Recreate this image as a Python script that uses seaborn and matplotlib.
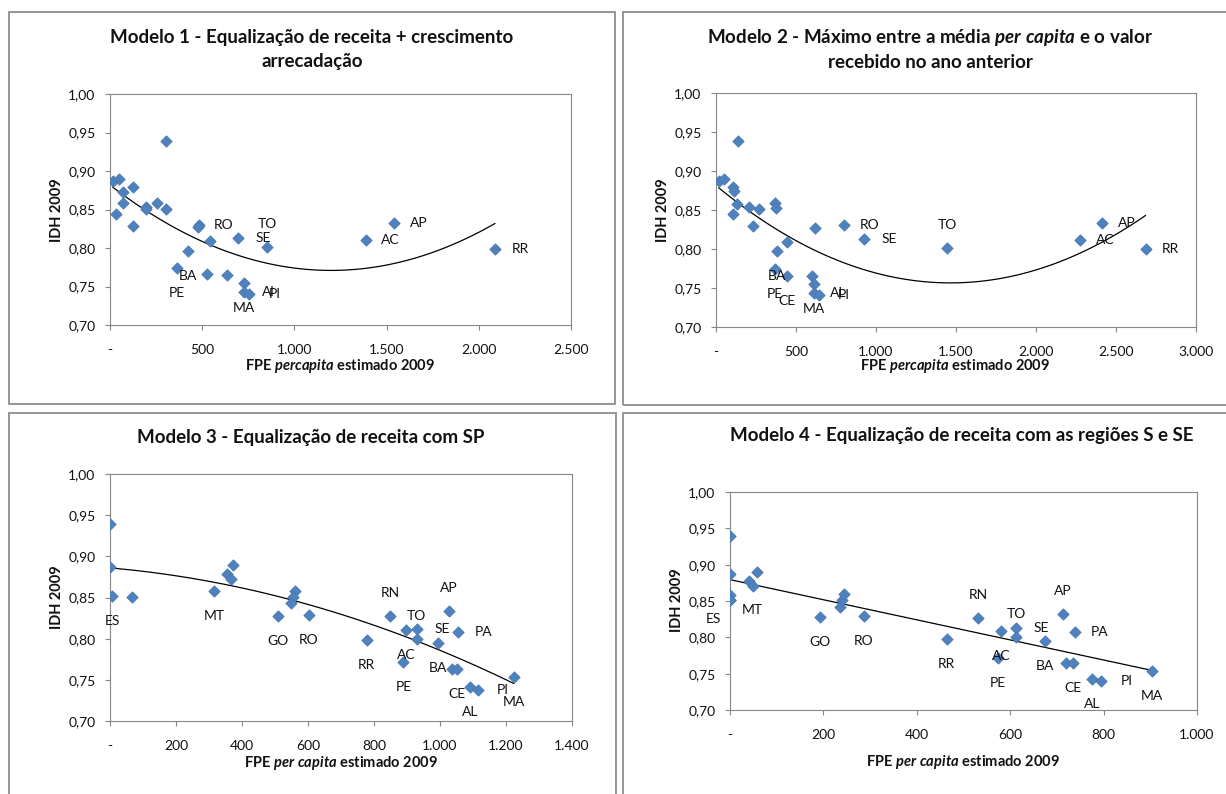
import numpy as np
import pandas as pd
import matplotlib
matplotlib.use("Agg")
import matplotlib.pyplot as plt
import seaborn as sns
from matplotlib.patches import Rectangle
from matplotlib.ticker import FixedLocator, FuncFormatter

# ---------------- data ----------------
# Modelo 1
m1_x = [306, 14, 51, 127, 69, 69, 34, 195, 195, 257, 306, 127, 481, 478, 543,
        693, 854, 1387, 1538, 2088, 425, 364, 525, 637, 724, 724, 756]
m1_y = [0.939, 0.887, 0.890, 0.879, 0.873, 0.858, 0.844, 0.853, 0.851, 0.858, 0.851,
        0.829, 0.830, 0.827, 0.809, 0.813, 0.801, 0.810, 0.833, 0.799, 0.796, 0.774,
        0.766, 0.765, 0.755, 0.743, 0.740]
m1_lbl = ["", "", "", "", "", "", "", "", "", "", "", "", "RO", "", "",
          "SE", "TO", "AC", "AP", "RR", "BA", "PE", "", "", "MA", "Al", "PI"]

# Modelo 2
m2_x = [137, 17, 52, 104, 110, 131, 106, 204, 269, 367, 375, 229, 617, 802, 442,
        927, 1444, 2277, 2410, 2685, 379, 369, 442, 600, 610, 610, 642]
m2_y = [0.939, 0.887, 0.890, 0.879, 0.874, 0.858, 0.845, 0.854, 0.851, 0.859, 0.852,
        0.830, 0.827, 0.831, 0.809, 0.813, 0.801, 0.811, 0.833, 0.800, 0.797, 0.774,
        0.766, 0.766, 0.755, 0.744, 0.741]
m2_lbl = ["", "", "", "", "", "", "", "", "", "", "", "", "", "RO", "",
          "SE", "TO", "AC", "AP", "RR", "BA", "PE", "CE", "", "MA", "AL", "PI"]

# Modelo 3
m3_x = [0, 0, 7, 68, 316, 354, 367, 372, 508, 562, 554, 548, 603, 778, 848,
        897, 931, 929, 889, 993, 1028, 1056, 1035, 1052, 1091, 1114, 1224]
m3_y = [0.939, 0.887, 0.852, 0.851, 0.858, 0.878, 0.872, 0.889, 0.828, 0.858, 0.851,
        0.843, 0.829, 0.798, 0.827, 0.810, 0.812, 0.799, 0.772, 0.795, 0.833, 0.808,
        0.763, 0.763, 0.741, 0.738, 0.753]
m3_lbl = ["", "", "ES", "", "MT", "", "", "", "GO", "", "", "", "RO", "RR", "RN",
          "AC", "SE", "TO", "PE", "BA", "AP", "PA", "", "CE", "AL", "PI", "MA"]

# Modelo 4
m4_x = [0, 0, 0, 0, 0, 41, 50, 58, 193, 235, 240, 244, 287, 464, 531,
        581, 573, 613, 613, 675, 712, 738, 719, 735, 775, 795, 904]
m4_y = [0.939, 0.887, 0.858, 0.851, 0.852, 0.878, 0.871, 0.890, 0.828, 0.842, 0.852,
        0.859, 0.829, 0.798, 0.827, 0.809, 0.772, 0.813, 0.800, 0.795, 0.832, 0.808,
        0.764, 0.764, 0.743, 0.740, 0.753]
m4_lbl = ["", "", "MT", "ES", "", "", "", "", "GO", "", "", "", "RO", "RR", "RN",
          "AC", "PE", "SE", "TO", "BA", "AP", "PA", "", "CE", "AL", "PI", "MA"]

y_ticks = [0.70, 0.75, 0.80, 0.85, 0.90, 0.95, 1.00]
x_ticks_1 = [0, 500, 1000, 1500, 2000, 2500]
x_ticks_2 = [0, 500, 1000, 1500, 2000, 2500, 3000]
x_ticks_3 = [0, 200, 400, 600, 800, 1000, 1200, 1400]
x_ticks_4 = [0, 200, 400, 600, 800, 1000]

# ---------------- label placement (style, in pixels) ----------------
R, B, A = (25, 0), (0, -25), (0, 23)
m1_pos = {"RO": R, "SE": R, "TO": A, "AC": R, "AP": R, "RR": R, "BA": B, "PE": B,
          "MA": B, "Al": R, "PI": R}
m2_pos = {"RO": R, "SE": R, "TO": A, "AC": R, "AP": R, "RR": R, "BA": B, "PE": B,
          "CE": B, "MA": B, "AL": R, "PI": R}
m3_pos = {"ES": B, "MT": B, "GO": B, "RO": B, "RR": B, "RN": A, "AC": B, "SE": R,
          "TO": A, "PE": B, "BA": B, "AP": A, "PA": R, "CE": B, "AL": B, "PI": R, "MA": B}
m4_pos = {"MT": (22, -15), "ES": (-17, -19), "GO": B, "RO": B, "RR": B, "RN": A,
          "AC": B, "PE": B, "SE": R, "TO": A, "BA": B, "AP": A, "PA": R, "CE": B,
          "AL": B, "PI": R, "MA": B}

# ---------------- style ----------------
sns.set_theme(style="white")
plt.rcParams['font.family'] = ['Lato', 'DejaVu Sans']
plt.rcParams['mathtext.fontset'] = 'custom'
plt.rcParams['mathtext.it'] = 'Lato:italic:bold'
plt.rcParams['mathtext.rm'] = 'Lato:bold'
plt.rcParams['mathtext.bf'] = 'Lato:bold'

W, H = 1226, 794
fig = plt.figure(figsize=(W / 100, H / 100), dpi=100)
fig.patch.set_facecolor("white")

def fx(px):
    return px / W

def fy(py):
    return 1 - py / H

GRAY = "#868686"
BLUE = "#4F81BD"
TXT = "#111111"

def fmt_x(v, pos):
    if abs(v) < 1e-9:
        return "-"
    return f"{int(round(v)):,}".replace(",", ".")

def fmt_y(v, pos):
    return f"{v:.2f}".replace(".", ",")

def panel(frame, rect, xs, ys, lbls, poss, xticks, order, title_lines, title_y,
          title_cx, xlabel, xlabel_pos, ylabel_pos):
    l, t, r, b = frame
    fig.patches.append(Rectangle((fx(l), fy(b)), (r - l) / W, (b - t) / H,
                                 transform=fig.transFigure, fill=False,
                                 edgecolor="#8E8E8E", linewidth=1.3, zorder=0))
    al, at, ar, ab = rect
    ax = fig.add_axes([fx(al), fy(ab), (ar - al) / W, (ab - at) / H])
    df = pd.DataFrame({"x": xs, "y": ys})
    sns.regplot(data=df, x="x", y="y", order=order, ci=None, scatter=False,
                truncate=True, ax=ax, line_kws=dict(color="black", lw=0.9, zorder=2))
    sns.scatterplot(data=df, x="x", y="y", marker="D", s=34, color=BLUE,
                    edgecolor="#4677B3", linewidth=0.5, ax=ax, zorder=3, legend=False)
    for xv, yv, lb in zip(xs, ys, lbls):
        if lb:
            ax.annotate(lb, xy=(xv, yv), xytext=poss[lb], textcoords="offset pixels",
                        ha="center", va="center", fontsize=10, color=TXT,
                        annotation_clip=False, zorder=4)
    ax.set_xlim(xticks[0], xticks[-1])
    ax.set_ylim(0.70, 1.00)
    ax.xaxis.set_major_locator(FixedLocator(xticks))
    ax.yaxis.set_major_locator(FixedLocator(y_ticks))
    ax.xaxis.set_major_formatter(FuncFormatter(fmt_x))
    ax.yaxis.set_major_formatter(FuncFormatter(fmt_y))
    ax.set_xlabel("")
    ax.set_ylabel("")
    for s in ax.spines.values():
        s.set_visible(True)
        s.set_color(GRAY)
        s.set_linewidth(0.8)
    ax.tick_params(axis="both", which="major", direction="out", length=3.5,
                   width=0.8, color=GRAY, labelsize=10, labelcolor=TXT,
                   bottom=True, left=True)
    ax.tick_params(axis="x", pad=10)
    ax.tick_params(axis="y", pad=7)
    ax.grid(False)
    for i, line in enumerate(title_lines):
        fig.text(fx(title_cx), fy(title_y + 25 * i), line, ha="center", va="center",
                 fontsize=13.5, fontweight="bold", color=TXT)
    fig.text(fx(xlabel_pos[0]), fy(xlabel_pos[1]), xlabel, ha="center", va="center",
             fontsize=10.5, fontweight="bold", color=TXT)
    fig.text(fx(ylabel_pos[0]), fy(ylabel_pos[1]), "IDH 2009", ha="center",
             va="center", rotation=90, fontsize=10.5, fontweight="bold", color=TXT)
    return ax

panel((9, 12, 615, 404), (110, 94, 571, 325), m1_x, m1_y, m1_lbl, m1_pos, x_ticks_1, 2,
      ["Modelo 1 - Equalização de receita + crescimento", "arrecadação"], 37, 312,
      r"FPE $\mathit{percapita}$ estimado 2009", (340, 366), (57, 210))
panel((623, 12, 1240, 405), (716, 93, 1196, 327), m2_x, m2_y, m2_lbl, m2_pos, x_ticks_2, 2,
      [r"Modelo 2 - Máximo entre a média $\mathit{per\ capita}$ e o valor",
       "recebido no ano anterior"], 37, 930,
      r"FPE $\mathit{percapita}$ estimado 2009", (955, 366), (663, 210))
panel((9, 413, 616, 810), (110, 474, 572, 721), m3_x, m3_y, m3_lbl, m3_pos, x_ticks_3, 2,
      ["Modelo 3 - Equalização de receita com SP"], 438, 311,
      r"FPE $\mathit{per\ capita}$ estimado 2009", (341, 763), (57, 597))
panel((623, 413, 1240, 810), (730, 492, 1197, 710), m4_x, m4_y, m4_lbl, m4_pos, x_ticks_4, 1,
      ["Modelo 4 - Equalização de receita com as regiões S e SE"], 436, 962,
      r"FPE $\mathit{per\ capita}$ estimado 2009", (963, 762), (677, 600))

fig.savefig("out.png", dpi=100, facecolor="white")
